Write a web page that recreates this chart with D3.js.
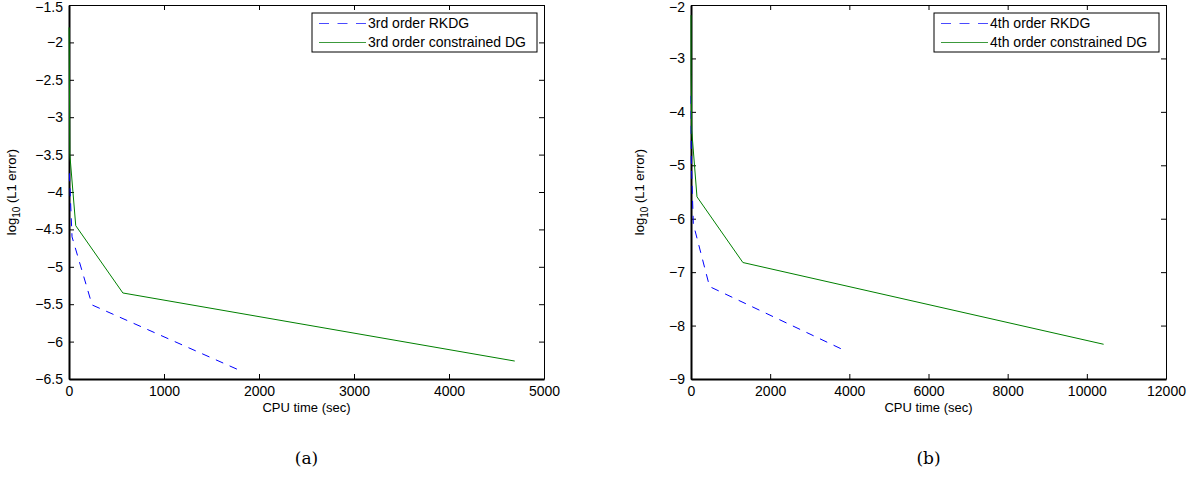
<!DOCTYPE html>
<html>
<head>
<meta charset="utf-8">
<script src="https://cdn.jsdelivr.net/npm/d3@7"></script>
<style>
  body { margin: 0; background: #fff; }
  text { font-family: "Liberation Sans", Arial, sans-serif; }
</style>
</head>
<body>
<div id="chart"></div>
<script>
// data (CPU time in sec, log10 of L1 error)
// panel (a), 3rd order
const timeRK3 = [4, 32, 243, 1824];
const errRK3 = [-3.75, -4.6, -5.51, -6.40];
const timeCDG3 = [1, 9, 71, 567, 4692];
const errCDG3 = [-1.8, -3.5, -4.45, -5.35, -6.26];
// panel (b), 4th order
const timeRK4 = [1, 7, 59, 469, 3892];
const errRK4 = [-3.7, -4.9, -6.1, -7.27, -8.47];
const timeCDG4 = [0.3, 2.4, 19, 151, 1311, 10424];
const errCDG4 = [-2.19, -3.3, -4.35, -5.59, -6.82, -8.35];

// ticks
const xTicksA = [0, 1000, 2000, 3000, 4000, 5000];
const yTicksA = [-6.5, -6, -5.5, -5, -4.5, -4, -3.5, -3, -2.5, -2, -1.5];
const xTicksB = [0, 2000, 4000, 6000, 8000, 10000, 12000];
const yTicksB = [-9, -8, -7, -6, -5, -4, -3, -2];

const legendA = ["3rd order RKDG", "3rd order constrained DG"];
const legendB = ["4th order RKDG", "4th order constrained DG"];

let svg = d3.select("#chart").append("svg")
    .attr("width", 1193)
    .attr("height", 481);

svg.append("rect").attr("width", 1193).attr("height", 481).attr("fill", "#fff");

function panel(opts) {
    let g = svg.append("g").attr("transform", "translate(" + opts.left + "," + opts.top + ")");
    let w = opts.width, h = opts.height;

    let x = d3.scaleLinear().domain(d3.extent(opts.xTicks)).range([0, w]);
    let y = d3.scaleLinear().domain(d3.extent(opts.yTicks)).range([h, 0]);

    let fmt = d => d3.format("")(d).replace("-", "\u2212");

    // axes with inward ticks (matlab style), mirrored on top and right
    let bottom = g.append("g").attr("transform", "translate(0," + h + ")")
        .call(d3.axisBottom(x).tickValues(opts.xTicks).tickSizeInner(-5).tickSizeOuter(0).tickPadding(7).tickFormat(fmt));
    let left = g.append("g")
        .call(d3.axisLeft(y).tickValues(opts.yTicks).tickSizeInner(-5).tickSizeOuter(0).tickPadding(6).tickFormat(fmt));
    let top = g.append("g")
        .call(d3.axisTop(x).tickValues(opts.xTicks).tickSizeInner(-5).tickSizeOuter(0).tickFormat(""));
    let right = g.append("g").attr("transform", "translate(" + w + ",0)")
        .call(d3.axisRight(y).tickValues(opts.yTicks).tickSizeInner(-5).tickSizeOuter(0).tickFormat(""));

    [bottom, left, top, right].forEach(a => {
        a.select(".domain").attr("stroke", "#000").attr("stroke-width", 1);
        a.selectAll(".tick line").attr("stroke", "#000").attr("stroke-width", 1);
        a.selectAll(".tick text").attr("fill", "#000").style("font-size", "14px")
            .style("font-family", "'Liberation Sans', Arial, sans-serif");
    });
    bottom.select(".domain").attr("stroke-width", 2);
    left.select(".domain").attr("stroke-width", 2);
    // keep the topmost label inside the page
    left.selectAll(".tick text").filter(d => d === opts.yTicks[opts.yTicks.length - 1]).attr("dy", "0.45em");

    // lines
    let line = d3.line().x(d => x(d[0])).y(d => y(d[1]));
    g.append("path")
        .datum(d3.zip(opts.rkTime, opts.rkErr))
        .attr("d", line)
        .attr("fill", "none")
        .attr("stroke", "#0000ff")
        .attr("stroke-width", 1)
        .attr("stroke-dasharray", "8,7");
    g.append("path")
        .datum(d3.zip(opts.cdgTime, opts.cdgErr))
        .attr("d", line)
        .attr("fill", "none")
        .attr("stroke", "#008000")
        .attr("stroke-width", 1);

    // legend box in upper right
    let lw = 225, lh = 39;
    let lg = g.append("g").attr("transform", "translate(" + (w - 7 - lw) + ",8)");
    lg.append("rect").attr("width", lw).attr("height", lh)
        .attr("fill", "#fff").attr("stroke", "#000").attr("stroke-width", 1);
    lg.append("line").attr("x1", 7).attr("x2", 54).attr("y1", 10.5).attr("y2", 10.5)
        .attr("stroke", "#4a4aff").attr("stroke-dasharray", "10,8.5");
    lg.append("line").attr("x1", 7).attr("x2", 54).attr("y1", 29.5).attr("y2", 29.5)
        .attr("stroke", "#3c9a3c");
    lg.selectAll("text.leg")
        .data(opts.legend)
        .enter()
        .append("text")
        .attr("class", "leg")
        .attr("x", 56)
        .attr("y", (d, i) => 10 + i * 19)
        .attr("dy", "0.35em")
        .style("font-size", "14px")
        .text(d => d);

    // axis labels
    g.append("text")
        .attr("x", w / 2)
        .attr("y", h + 33)
        .attr("text-anchor", "middle")
        .style("font-size", "13px")
        .text("CPU time (sec)");

    let yl = g.append("text")
        .attr("transform", "translate(" + opts.ylabelX + "," + (h / 2) + ") rotate(-90)")
        .attr("text-anchor", "middle")
        .style("font-size", "13px");
    yl.append("tspan").text("log");
    yl.append("tspan").attr("dy", 4).style("font-size", "10px").text("10");
    yl.append("tspan").attr("dy", -4).text(" (L1 error)");

    // caption
    svg.append("text")
        .attr("x", opts.left + w / 2)
        .attr("y", 464)
        .attr("text-anchor", "middle")
        .style("font-family", "'DejaVu Serif', 'Liberation Serif', serif")
        .style("font-size", "17px")
        .text(opts.caption);
}

panel({
    left: 69, top: 5, width: 475, height: 374,
    xTicks: xTicksA, yTicks: yTicksA,
    rkTime: timeRK3, rkErr: errRK3, cdgTime: timeCDG3, cdgErr: errCDG3,
    legend: legendA, ylabelX: -53, caption: "(a)"
});

panel({
    left: 691, top: 5, width: 475, height: 374,
    xTicks: xTicksB, yTicks: yTicksB,
    rkTime: timeRK4, rkErr: errRK4, cdgTime: timeCDG4, cdgErr: errCDG4,
    legend: legendB, ylabelX: -47, caption: "(b)"
});
</script>
</body>
</html>
